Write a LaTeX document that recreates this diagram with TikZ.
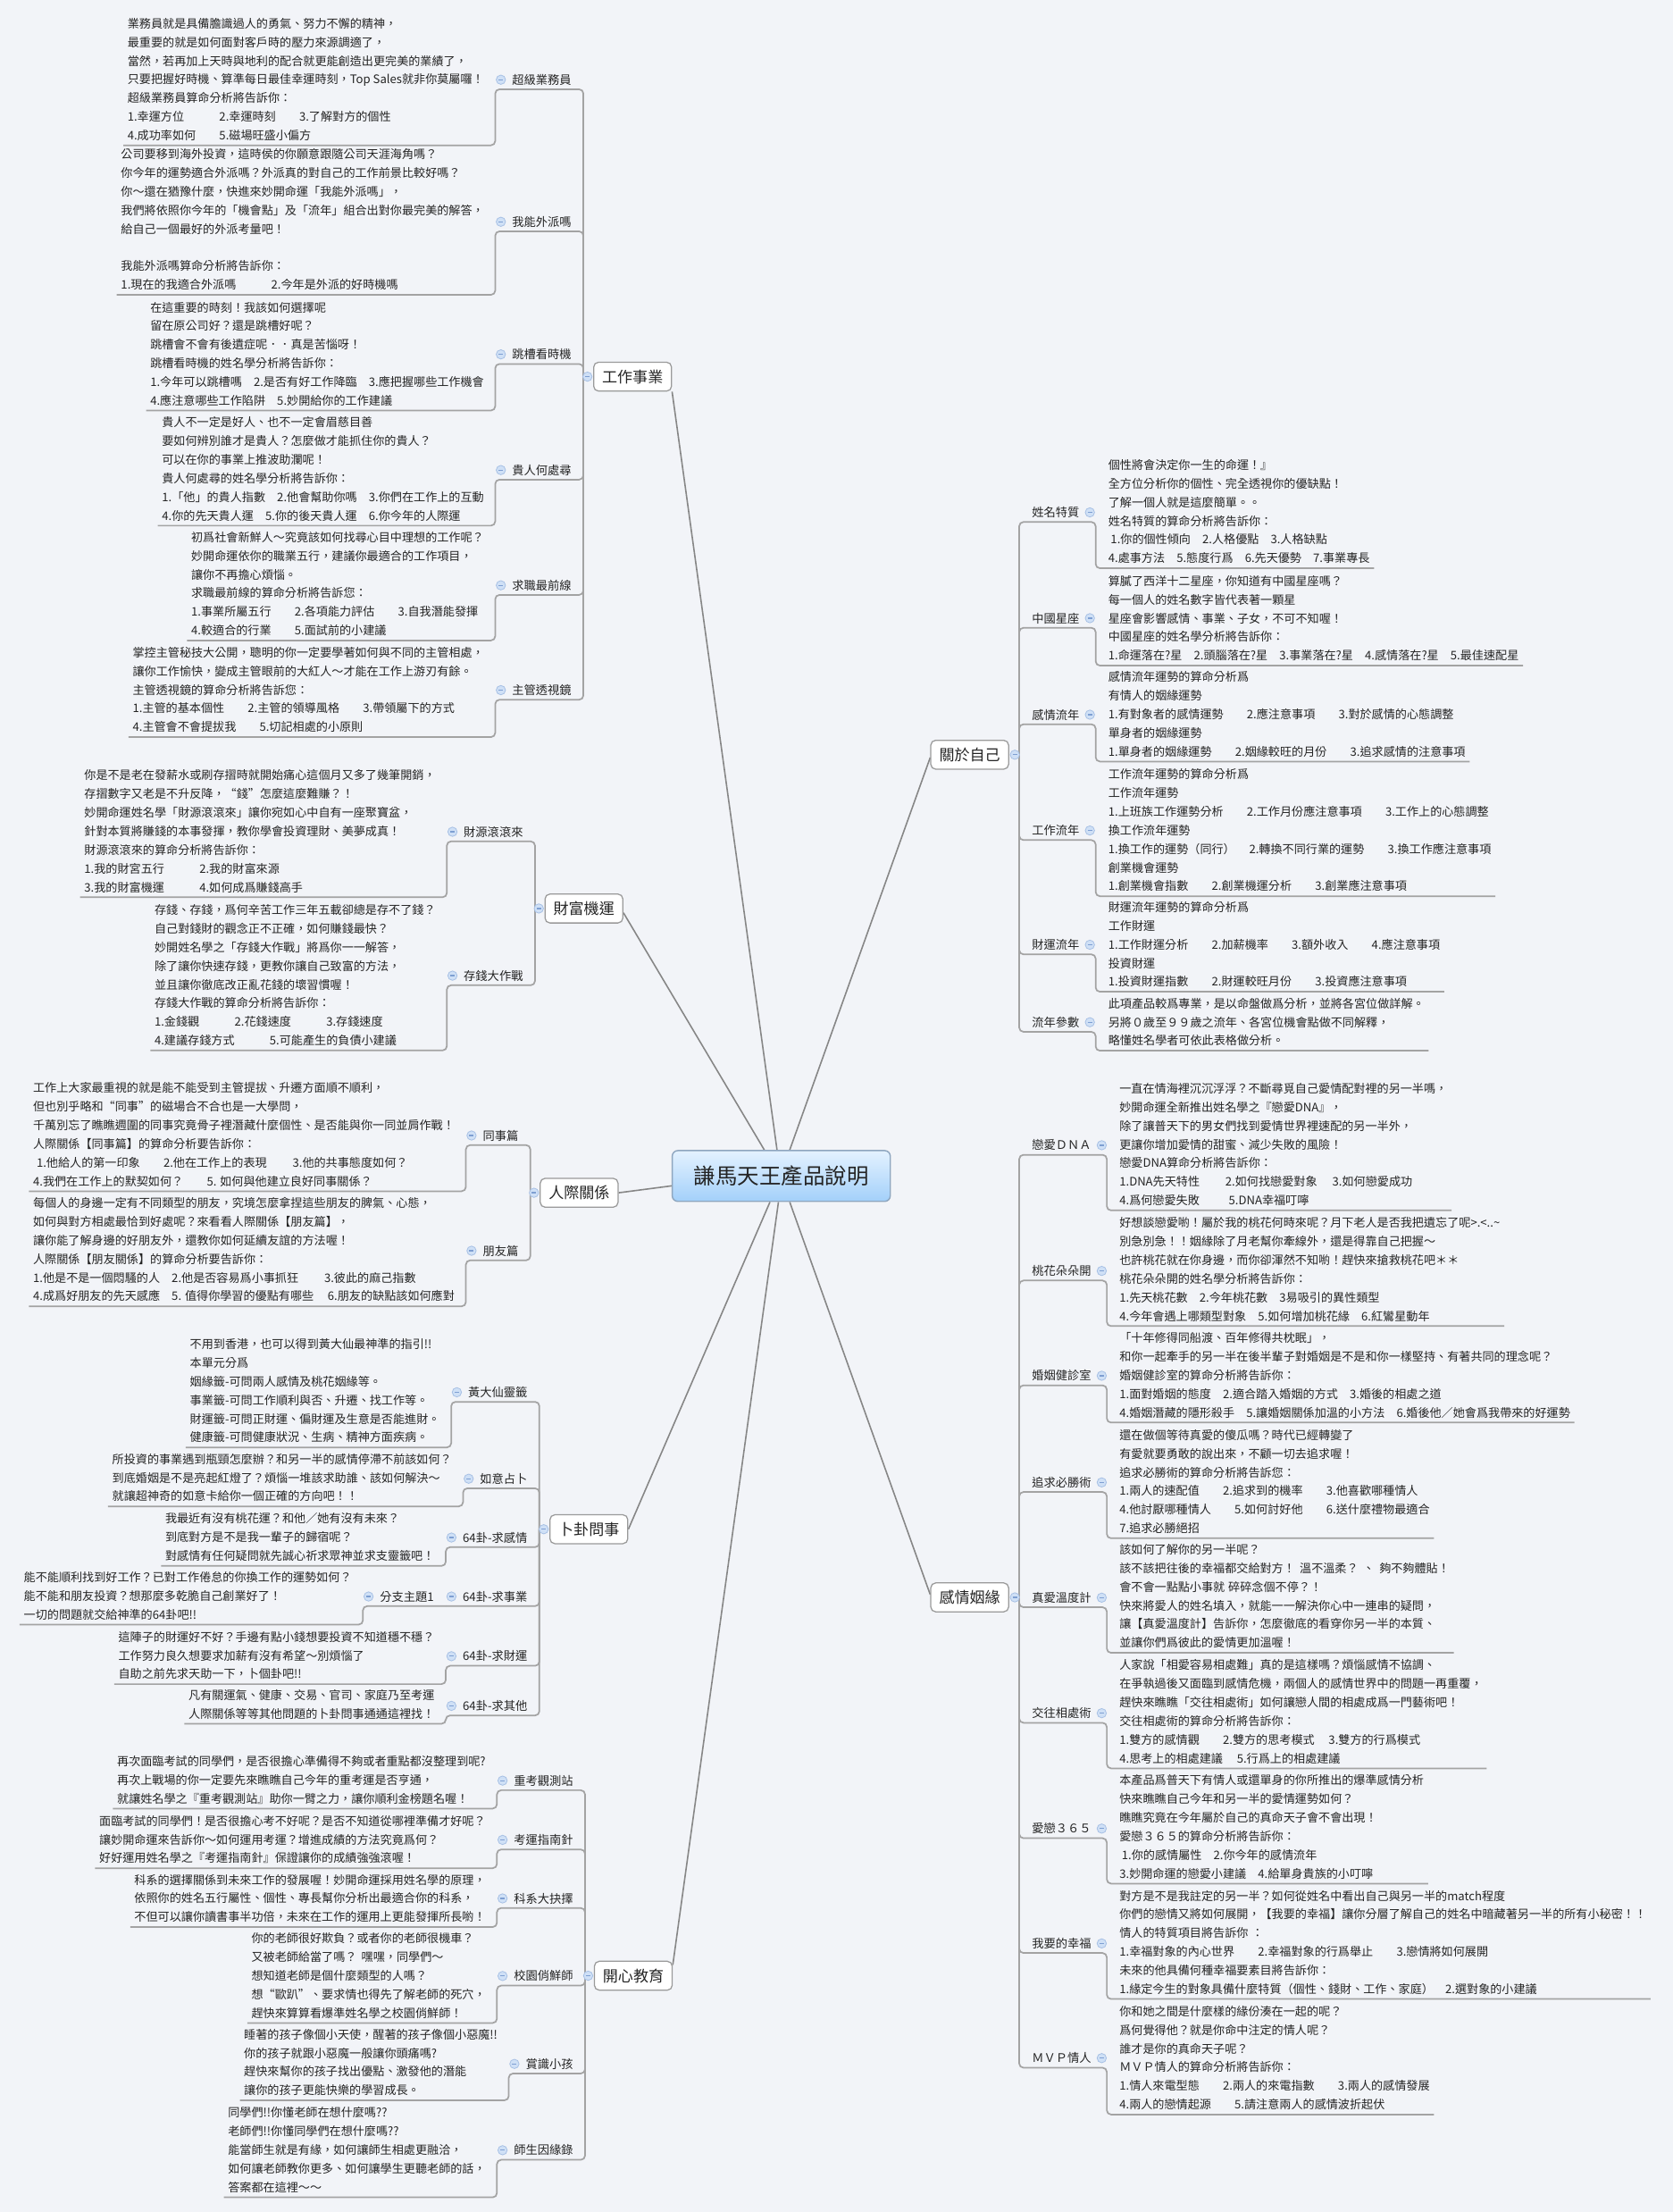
\documentclass[tikz,border=0pt]{standalone}
\usepackage{fontspec}
\setmainfont{Noto Sans CJK TC}
\usetikzlibrary{calc,backgrounds}
\definecolor{bg}{HTML}{F2F4F8}
\definecolor{txt}{HTML}{242424}
\definecolor{ln}{HTML}{A3A3A3}
\definecolor{mln}{HTML}{868686}
\definecolor{mfill}{HTML}{CFE0F6}
\definecolor{mdraw}{HTML}{A7C0E4}
\definecolor{mbar}{HTML}{7E9FD2}
\definecolor{ctop}{HTML}{E4F2FF}
\definecolor{cbot}{HTML}{A3D0FA}
\definecolor{cdraw}{HTML}{8EA6BF}
\definecolor{bdraw}{HTML}{9A9A9A}
\newcommand\gp[1]{\hspace*{#1em}}
\tikzset{
 tblock/.style={font={\fontsize{8.3}{13.2}\selectfont}, align=left, inner xsep=3pt, inner ysep=0pt, outer sep=0pt, text=txt},
 sublabel/.style={font={\fontsize{8.4}{10}\selectfont}, inner sep=0pt, outer sep=0pt, text=txt},
 conn/.style={draw=ln, line width=1.1pt, rounded corners=3pt},
 mainline/.style={draw=mln, line width=1pt},
 mainbox/.style={draw=bdraw, line width=0.8pt, fill=white, rounded corners=3.5pt, font={\fontsize{10.8}{12}\selectfont}, text=txt, minimum width=55pt, minimum height=20.5pt, inner xsep=6pt, inner ysep=0pt},
 ctrbox/.style={draw=cdraw, line width=0.9pt, rounded corners=4pt, top color=ctop, bottom color=cbot, font={\fontsize{15.5}{17}\selectfont}, text=txt, minimum width=154.6pt, minimum height=36pt},
 mcirc/.style={circle, minimum size=6.6pt, inner sep=0pt, fill=mfill, draw=mdraw, line width=0.5pt, path picture={\draw[mbar, line width=0.8pt] ([xshift=1.7pt]path picture bounding box.west) -- ([xshift=-1.7pt]path picture bounding box.east);}},
}
% left sub-branch: id, trunk coordinate, trunk x, label underline y, label, text underline y, text
\newcommand\subL[7]{%
  \node[sublabel, anchor=base east] (#1) at ({#3-8.5},{#4-3.6}) {#5};
  \path (#1.base west) ++(-12,3.6) coordinate (#1e);
  \coordinate (#1b) at (#1e|-0,#6);
  \node[tblock, anchor=south east] (#1t) at ([xshift=-5pt]#1b) {\strut{}#7\strut};
  \draw[conn] (#2) |- (#1e) -- (#1b) -- (#1t.south west);
  \node[mcirc] (#1m) at ([xshift=-8pt,yshift=3.2pt]#1.base west) {};
}
% right sub-branch: id, trunk coordinate, trunk x, label underline y, label, text underline y, text, elbow x
\newcommand\subR[8]{%
  \node[sublabel, anchor=base west] (#1) at ({#3+9},{#4-3.6}) {#5};
  \coordinate (#1e) at (#8,#4);
  \coordinate (#1b) at (#8,#6);
  \node[tblock, anchor=south west] (#1t) at ([xshift=6pt]#1b) {\strut{}#7\strut};
  \draw[conn] (#2) |- (#1e) -- (#1b) -- (#1t.south east);
  \node[mcirc] (#1m) at ([xshift=7.5pt,yshift=3.2pt]#1.base east) {};
}
\begin{document}
\begin{tikzpicture}[x=1pt,y=-1pt]
\useasboundingbox (0,0) rectangle (1186,1568);
% main nodes
\node[ctrbox] (c) at (553.9,833.6) {謙馬天王產品說明};
\node[mainbox] (work) at (448.5,267) {工作事業};
\node[mainbox] (wealth) at (414,644) {財富機運};
\node[mainbox] (rel) at (410.6,845.5) {人際關係};
\node[mainbox] (div) at (417.5,1084) {卜卦問事};
\node[mainbox] (edu) at (449,1400.5) {開心教育};
\node[mainbox] (self) at (687.5,535) {關於自己};
\node[mainbox] (love) at (687.5,1132.3) {感情姻緣};
\begin{scope}[on background layer]
\fill[bg] (0,0) rectangle (1186,1568);
\draw[mainline] (work.south east) -- ($(c.north)+(-3,0)$);
\draw[mainline] ($(wealth.east)+(0,3)$) -- ($(c.north)+(-12,0)$);
\draw[mainline] (rel.east) -- ($(c.west)+(0,7)$);
\draw[mainline] (div.east) -- ($(c.south)+(-8,0)$);
\draw[mainline] ($(edu.north east)+(0,3)$) -- ($(c.south)+(-2,0)$);
\draw[mainline] ($(self.west)+(0,2)$) -- ($(c.north)+(6,0)$);
\draw[mainline] ($(love.west)+(0,-2)$) -- ($(c.south)+(6,0)$);
\end{scope}
\coordinate (workT) at (413.6,267);
\coordinate (wealthT) at (379.3,644);
\coordinate (relT) at (376,845.5);
\coordinate (divT) at (382.4,1084);
\coordinate (eduT) at (414.8,1400.5);
\coordinate (selfT) at (722.6,535);
\coordinate (loveT) at (722.6,1132.3);
% ---------- 工作事業
\subL{ss}{workT}{413.6}{63.3}{超級業務員}{103}{業務員就是具備膽識過人的勇氣、努力不懈的精神，\\
最重要的就是如何面對客戶時的壓力來源調適了，\\
當然，若再加上天時與地利的配合就更能創造出更完美的業績了，\\
只要把握好時機、算準每日最佳幸運時刻，Top Sales就非你莫屬囉！\\
超級業務員算命分析將告訴你：\\
1.幸運方位\gp{3}2.幸運時刻\gp{2}3.了解對方的個性\\
4.成功率如何\gp{2}5.磁場旺盛小偏方}
\subL{ab}{workT}{413.6}{164}{我能外派嗎}{209}{公司要移到海外投資，這時侯的你願意跟隨公司天涯海角嗎？\\
你今年的運勢適合外派嗎？外派真的對自己的工作前景比較好嗎？\\
你～還在猶豫什麼，快進來妙開命運「我能外派嗎」，\\
我們將依照你今年的「機會點」及「流年」組合出對你最完美的解答，\\
給自己一個最好的外派考量吧！\\
\mbox{}\\
我能外派嗎算命分析將告訴你：\\
1.現在的我適合外派嗎\gp{3}2.今年是外派的好時機嗎}
\subL{jh}{workT}{413.6}{258}{跳槽看時機}{291}{在這重要的時刻！我該如何選擇呢\\
留在原公司好？還是跳槽好呢？\\
跳槽會不會有後遺症呢．．真是苦惱呀！\\
跳槽看時機的姓名學分析將告訴你：\\
1.今年可以跳槽嗎\gp{1}2.是否有好工作降臨\gp{1}3.應把握哪些工作機會\\
4.應注意哪些工作陷阱\gp{1}5.妙開給你的工作建議}
\subL{nb}{workT}{413.6}{340}{貴人何處尋}{372.6}{貴人不一定是好人、也不一定會眉慈目善\\
要如何辨別誰才是貴人？怎麼做才能抓住你的貴人？\\
可以在你的事業上推波助瀾呢！\\
貴人何處尋的姓名學分析將告訴你：\\
1.「他」的貴人指數\gp{1}2.他會幫助你嗎\gp{1}3.你們在工作上的互動\\
4.你的先天貴人運\gp{1}5.你的後天貴人運\gp{1}6.你今年的人際運}
\subL{jf}{workT}{413.6}{421.7}{求職最前線}{454}{初爲社會新鮮人～究竟該如何找尋心目中理想的工作呢？\\
妙開命運依你的職業五行，建議你最適合的工作項目，\\
讓你不再擔心煩惱。\\
求職最前線的算命分析將告訴您：\\
1.事業所屬五行\gp{2}2.各項能力評估\gp{2}3.自我潛能發揮\\
4.較適合的行業\gp{2}5.面試前的小建議}
\subL{bs}{workT}{413.6}{496}{主管透視鏡}{522.5}{掌控主管秘技大公開，聰明的你一定要學著如何與不同的主管相處，\\
讓你工作愉快，變成主管眼前的大紅人～才能在工作上游刃有餘。\\
主管透視鏡的算命分析將告訴您：\\
1.主管的基本個性\gp{2}2.主管的領導風格\gp{2}3.帶領屬下的方式\\
4.主管會不會提拔我\gp{2}5.切記相處的小原則}
% ---------- 財富機運
\subL{wa}{wealthT}{379.3}{596.4}{財源滾滾來}{636}{你是不是老在發薪水或刷存摺時就開始痛心這個月又多了幾筆開銷，\\
存摺數字又老是不升反降，“錢”怎麼這麼難賺？！\\
妙開命運姓名學「財源滾滾來」讓你宛如心中自有一座聚寶盆，\\
針對本質將賺錢的本事發揮，教你學會投資理財、美夢成真！\\
財源滾滾來的算命分析將告訴你：\\
1.我的財宮五行\gp{3}2.我的財富來源\\
3.我的財富機運\gp{3}4.如何成爲賺錢高手}
\subL{wb}{wealthT}{379.3}{698.4}{存錢大作戰}{744.6}{存錢、存錢，爲何辛苦工作三年五載卻總是存不了錢？\\
自己對錢財的觀念正不正確，如何賺錢最快？\\
妙開姓名學之「存錢大作戰」將爲你一一解答，\\
除了讓你快速存錢，更教你讓自己致富的方法，\\
並且讓你徹底改正亂花錢的壞習慣喔！\\
存錢大作戰的算命分析將告訴你：\\
1.金錢觀\gp{3}2.花錢速度\gp{3}3.存錢速度\\
4.建議存錢方式\gp{3}5.可能產生的負債小建議}
% ---------- 人際關係
\subL{ra}{relT}{376}{811.7}{同事篇}{844.4}{工作上大家最重視的就是能不能受到主管提拔、升遷方面順不順利，\\
但也別乎略和“同事”的磁場合不合也是一大學問，\\
千萬別忘了瞧瞧週圍的同事究竟骨子裡潛藏什麼個性、是否能與你一同並肩作戰！\\
人際關係【同事篇】的算命分析要告訴你：\\
\gp{0.3}1.他給人的第一印象\gp{2}2.他在工作上的表現\gp{2.2}3.他的共事態度如何？\\
4.我們在工作上的默契如何？\gp{2}5. 如何與他建立良好同事關係？}
\subL{rb}{relT}{376}{893.4}{朋友篇}{926}{每個人的身邊一定有不同類型的朋友，究境怎麼拿捏這些朋友的脾氣、心態，\\
如何與對方相處最恰到好處呢？來看看人際關係【朋友篇】，\\
讓你能了解身邊的好朋友外，還教你如何延續友誼的方法喔！\\
人際關係【朋友關係】的算命分析要告訴你：\\
1.他是不是一個悶騷的人\gp{1}2.他是否容易爲小事抓狂\gp{2.2}3.彼此的麻己指數\\
4.成爲好朋友的先天感應\gp{1}5. 值得你學習的優點有哪些\gp{1.2}6.朋友的缺點該如何應對}
% ---------- 卜卦問事
\subL{da}{divT}{382.4}{993.7}{黃大仙靈籤}{1026}{不用到香港，也可以得到黃大仙最神準的指引!!\\
本單元分爲\\
姻緣籤-可問兩人感情及桃花姻緣等。\\
事業籤-可問工作順利與否、升遷、找工作等。\\
財運籤-可問正財運、偏財運及生意是否能進財。\\
健康籤-可問健康狀況、生病、精神方面疾病。}
\subL{db}{divT}{382.4}{1055}{如意占卜}{1067.8}{所投資的事業遇到瓶頸怎麼辦？和另一半的感情停滯不前該如何？\\
到底婚姻是不是亮起紅燈了？煩惱一堆該求助誰、該如何解決～\\
就讓超神奇的如意卡給你一個正確的方向吧！！}
\subL{dc}{divT}{382.4}{1096.7}{64卦-求感情}{1110}{我最近有沒有桃花運？和他／她有沒有未來？\\
到底對方是不是我一輩子的歸宿呢？\\
對感情有任何疑問就先誠心祈求眾神並求支靈籤吧！}
\node[sublabel, anchor=base east] (dd) at ({382.4-8.5},{1138.5-3.6}) {64卦-求事業};
\path (dd.base west) ++(-12,3.6) coordinate (dde);
\draw[conn] (divT) |- (dde);
\node[sublabel, anchor=base east] (sub) at ([xshift=-8.5pt,yshift=3.6pt]dde) {分支主題1};
\path (sub.base west) ++(-12,3.6) coordinate (sube);
\coordinate (subb) at (sube|-0,1151.6);
\node[tblock, anchor=south east] (subt) at ([xshift=-5pt]subb) {\strut{}能不能順利找到好工作？已對工作倦怠的你換工作的運勢如何？\\
能不能和朋友投資？想那麼多乾脆自己創業好了！\\
一切的問題就交給神準的64卦吧!!\strut};
\draw[conn] (dde) -- (sube) -- (subb) -- (subt.south west);
\node[mcirc] (ddm) at ([xshift=-8pt,yshift=3.2pt]dd.base west) {};
\node[mcirc] (subm) at ([xshift=-8pt,yshift=3.2pt]sub.base west) {};
\subL{de}{divT}{382.4}{1180.8}{64卦-求財運}{1193.8}{這陣子的財運好不好？手邊有點小錢想要投資不知道穩不穩？\\
工作努力良久想要求加薪有沒有希望～別煩惱了\\
自助之前先求天助一下，卜個卦吧!!}
\subL{df}{divT}{382.4}{1216}{64卦-求其他}{1221.9}{凡有關運氣、健康、交易、官司、家庭乃至考運\\
人際關係等等其他問題的卜卦問事通通這裡找！}
% ---------- 開心教育
\subL{ea}{eduT}{414.8}{1269}{重考觀測站}{1282}{再次面臨考試的同學們，是否很擔心準備得不夠或者重點都沒整理到呢?\\
再次上戰場的你一定要先來瞧瞧自己今年的重考運是否亨通，\\
就讓姓名學之『重考觀測站』助你一臂之力，讓你順利金榜題名喔！}
\subL{eb}{eduT}{414.8}{1311}{考運指南針}{1324.3}{面臨考試的同學們！是否很擔心考不好呢？是否不知道從哪裡準備才好呢？\\
讓妙開命運來告訴你～如何運用考運？增進成績的方法究竟爲何？\\
好好運用姓名學之『考運指南針』保證讓你的成績強強滾喔！}
\subL{ec}{eduT}{414.8}{1352.5}{科系大抉擇}{1366}{科系的選擇關係到未來工作的發展喔！妙開命運採用姓名學的原理，\\
依照你的姓名五行屬性、個性、專長幫你分析出最適合你的科系，\\
不但可以讓你讀書事半功倍，未來在工作的運用上更能發揮所長喲！}
\subL{ed}{eduT}{414.8}{1407.5}{校園俏鮮師}{1434}{你的老師很好欺負？或者你的老師很機車？\\
又被老師給當了嗎？\gp{0.4}嘿嘿，同學們～\\
想知道老師是個什麼類型的人嗎？\\
想“歐趴”、要求情也得先了解老師的死穴，\\
趕快來算算看爆準姓名學之校園俏鮮師！}
\subL{ee}{eduT}{414.8}{1469.8}{賞識小孩}{1488.8}{睡著的孩子像個小天使，醒著的孩子像個小惡魔!!\\
你的孩子就跟小惡魔一般讓你頭痛嗎?\\
趕快來幫你的孩子找出優點、激發他的潛能\\
讓你的孩子更能快樂的學習成長。}
\subL{ef}{eduT}{414.8}{1531}{師生因緣錄}{1557.6}{同學們!!你懂老師在想什麼嗎??\\
老師們!!你懂同學們在想什麼嗎??\\
能當師生就是有緣，如何讓師生相處更融洽，\\
如何讓老師教你更多、如何讓學生更聽老師的話，\\
答案都在這裡～～}
% ---------- 關於自己
\subR{sa}{selfT}{722.6}{370}{姓名特質}{402.8}{個性將會決定你一生的命運！』\\
全方位分析你的個性、完全透視你的優缺點！\\
了解一個人就是這麼簡單。。\\
姓名特質的算命分析將告訴你：\\
\gp{0.2}1.你的個性傾向\gp{1}2.人格優點\gp{1}3.人格缺點\\
4.處事方法\gp{1}5.態度行爲\gp{1}6.先天優勢\gp{1}7.事業專長}{776.8}
\subR{sb}{selfT}{722.6}{445}{中國星座}{471.8}{算膩了西洋十二星座，你知道有中國星座嗎？\\
每一個人的姓名數字皆代表著一顆星\\
星座會影響感情、事業、子女，不可不知喔！\\
中國星座的姓名學分析將告訴你：\\
1.命運落在?星\gp{1}2.頭腦落在?星\gp{1}3.事業落在?星\gp{1}4.感情落在?星\gp{1}5.最佳速配星}{776.8}
\subR{sc}{selfT}{722.6}{513.4}{感情流年}{539.8}{感情流年運勢的算命分析爲\\
有情人的姻緣運勢\\
1.有對象者的感情運勢\gp{2}2.應注意事項\gp{2}3.對於感情的心態調整\\
單身者的姻緣運勢\\
1.單身者的姻緣運勢\gp{2}2.姻緣較旺的月份\gp{2}3.追求感情的注意事項}{776.8}
\subR{sd}{selfT}{722.6}{595.5}{工作流年}{635.3}{工作流年運勢的算命分析爲\\
工作流年運勢\\
1.上班族工作運勢分析\gp{2}2.工作月份應注意事項\gp{2}3.工作上的心態調整\\
換工作流年運勢\\
1.換工作的運勢（同行）\gp{1.2}2.轉換不同行業的運勢\gp{2}3.換工作應注意事項\\
創業機會運勢\\
1.創業機會指數\gp{2}2.創業機運分析\gp{2}3.創業應注意事項}{776.8}
\subR{se}{selfT}{722.6}{676.5}{財運流年}{703}{財運流年運勢的算命分析爲\\
工作財運\\
1.工作財運分析\gp{2}2.加薪機率\gp{2}3.額外收入\gp{2}4.應注意事項\\
投資財運\\
1.投資財運指數\gp{2}2.財運較旺月份\gp{2}3.投資應注意事項}{776.8}
\subR{sf}{selfT}{722.6}{731.4}{流年參數}{744.8}{此項產品較爲專業，是以命盤做爲分析，並將各宮位做詳解。\\
另將０歲至９９歲之流年、各宮位機會點做不同解釋，\\
略懂姓名學者可依此表格做分析。}{776.8}
% ---------- 感情姻緣
\subR{la}{loveT}{722.6}{818.6}{戀愛ＤＮＡ}{858}{一直在情海裡沉沉浮浮？不斷尋覓自己愛情配對裡的另一半嗎，\\
妙開命運全新推出姓名學之『戀愛DNA』，\\
除了讓普天下的男女們找到愛情世界裡速配的另一半外，\\
更讓你增加愛情的甜蜜、減少失敗的風險！\\
戀愛DNA算命分析將告訴你：\\
1.DNA先天特性\gp{2.2}2.如何找戀愛對象\gp{1.3}3.如何戀愛成功\\
4.爲何戀愛失敗\gp{2.5}5.DNA幸福叮嚀}{784.7}
\subR{lb}{loveT}{722.6}{907.7}{桃花朵朵開}{940}{好想談戀愛喲！屬於我的桃花何時來呢？月下老人是否我把遺忘了呢>.<..\textasciitilde\\
別急別急！！姻緣除了月老幫你牽線外，還是得靠自己把握～\\
也許桃花就在你身邊，而你卻渾然不知喲！趕快來搶救桃花吧＊＊\\
桃花朵朵開的姓名學分析將告訴你：\\
1.先天桃花數\gp{1}2.今年桃花數\gp{1}3易吸引的異性類型\\
4.今年會遇上哪類型對象\gp{1}5.如何增加桃花緣\gp{1}6.紅鸞星動年}{784.7}
\subR{lc}{loveT}{722.6}{982}{婚姻健診室}{1008.4}{「十年修得同船渡、百年修得共枕眠」，\\
和你一起牽手的另一半在後半輩子對婚姻是不是和你一樣堅持、有著共同的理念呢？\\
婚姻健診室的算命分析將告訴你：\\
1.面對婚姻的態度\gp{1}2.適合踏入婚姻的方式\gp{1}3.婚後的相處之道\\
4.婚姻潛藏的隱形殺手\gp{1}5.讓婚姻關係加溫的小方法\gp{1}6.婚後他／她會爲我帶來的好運勢}{784.7}
\subR{ld}{loveT}{722.6}{1057.6}{追求必勝術}{1090.4}{還在做個等待真愛的傻瓜嗎？時代已經轉變了\\
有愛就要勇敢的說出來，不顧一切去追求喔！\\
追求必勝術的算命分析將告訴您：\\
1.兩人的速配值\gp{2}2.追求到的機率\gp{2}3.他喜歡哪種情人\\
4.他討厭哪種情人\gp{2}5.如何討好他\gp{2}6.送什麼禮物最適合\\
7.追求必勝絕招}{784.7}
\subR{le}{loveT}{722.6}{1139.3}{真愛溫度計}{1171.6}{該如何了解你的另一半呢？\\
該不該把往後的幸福都交給對方！\gp{0.4}溫不溫柔？\gp{0.4}、\gp{0.4}夠不夠體貼！\\
會不會一點點小事就\gp{0.3}碎碎念個不停？！\\
快來將愛人的姓名填入，就能一一解決你心中一連串的疑問，\\
讓【真愛溫度計】告訴你，怎麼徹底的看穿你另一半的本質、\\
並讓你們爲彼此的愛情更加溫喔！}{784.7}
\subR{lf}{loveT}{722.6}{1221.2}{交往相處術}{1253.5}{人家說「相愛容易相處難」真的是這樣嗎？煩惱感情不協調、\\
在爭執過後又面臨到感情危機，兩個人的感情世界中的問題一再重覆，\\
趕快來瞧瞧「交往相處術」如何讓戀人間的相處成爲一門藝術吧！\\
交往相處術的算命分析將告訴你：\\
1.雙方的感情觀\gp{2}2.雙方的思考模式\gp{1.2}3.雙方的行爲模式\\
4.思考上的相處建議\gp{1.2}5.行爲上的相處建議}{784.7}
\subR{lg}{loveT}{722.6}{1303}{愛戀３６５}{1335.2}{本產品爲普天下有情人或還單身的你所推出的爆準感情分析\\
快來瞧瞧自己今年和另一半的愛情運勢如何？\\
瞧瞧究竟在今年屬於自己的真命天子會不會出現！\\
愛戀３６５的算命分析將告訴你：\\
\gp{0.2}1.你的感情屬性\gp{1}2.你今年的感情流年\\
3.妙開命運的戀愛小建議\gp{1}4.給單身貴族的小叮嚀}{784.7}
\subR{lh}{loveT}{722.6}{1384.4}{我要的幸福}{1417}{對方是不是我註定的另一半？如何從姓名中看出自己與另一半的match程度\\
你們的戀情又將如何展開，【我要的幸福】讓你分層了解自己的姓名中暗藏著另一半的所有小秘密！！\\
情人的特質項目將告訴你\gp{0.3}：\\
1.幸福對象的內心世界\gp{2}2.幸福對象的行爲舉止\gp{2}3.戀情將如何展開\\
未來的他具備何種幸福要素目將告訴你：\\
1.緣定今生的對象具備什麼特質（個性、錢財、工作、家庭）\gp{1}2.選對象的小建議}{784.7}
\subR{li}{loveT}{722.6}{1465.7}{ＭＶＰ情人}{1498.9}{你和她之間是什麼樣的緣份湊在一起的呢？\\
爲何覺得他？就是你命中注定的情人呢？\\
誰才是你的真命天子呢？\\
ＭＶＰ情人的算命分析將告訴你：\\
1.情人來電型態\gp{2}2.兩人的來電指數\gp{2}3.兩人的感情發展\\
4.兩人的戀情起源\gp{2}5.請注意兩人的感情波折起伏}{784.7}
% main circles
\node[mcirc] (workm) at ($(work.west)+(-4,0)$) {};
\node[mcirc] (wealthm) at ($(wealth.west)+(-4,0)$) {};
\node[mcirc] (relm) at ($(rel.west)+(-4,0)$) {};
\node[mcirc] (divm) at ($(div.west)+(-4,0)$) {};
\node[mcirc] (edum) at ($(edu.west)+(-4,0)$) {};
\node[mcirc] (selfm) at ($(self.east)+(4,0)$) {};
\node[mcirc] (lovem) at ($(love.east)+(4,0)$) {};
\end{tikzpicture}
\end{document}
